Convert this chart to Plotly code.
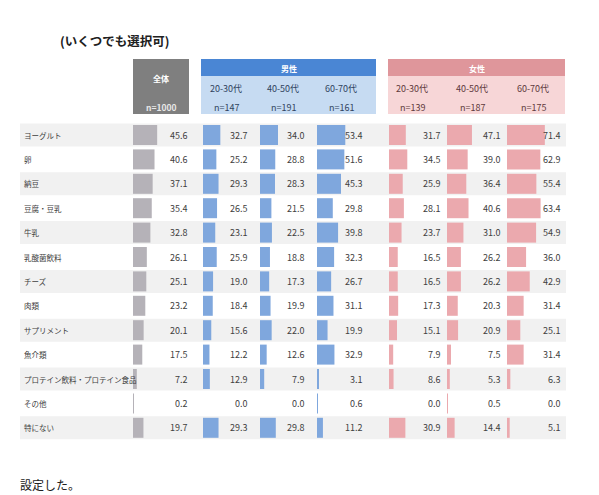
import plotly.graph_objects as go

items = ["ヨーグルト","卵","納豆","豆腐・豆乳","牛乳","乳酸菌飲料","チーズ","肉類","サプリメント","魚介類","プロテイン飲料・プロテイン食品","その他","特にない"]
total = [45.6,40.6,37.1,35.4,32.8,26.1,25.1,23.2,20.1,17.5,7.2,0.2,19.7]
m20 = [32.7,25.2,29.3,26.5,23.1,25.9,19.0,18.4,15.6,12.2,12.9,0.0,29.3]
m40 = [34.0,28.8,28.3,21.5,22.5,18.8,17.3,19.9,22.0,12.6,7.9,0.0,29.8]
m60 = [53.4,51.6,45.3,29.8,39.8,32.3,26.7,31.1,19.9,32.9,3.1,0.6,11.2]
f20 = [31.7,34.5,25.9,28.1,23.7,16.5,16.5,17.3,15.1,7.9,8.6,0.0,30.9]
f40 = [47.1,39.0,36.4,40.6,31.0,26.2,26.2,20.3,20.9,7.5,5.3,0.5,14.4]
f60 = [71.4,62.9,55.4,63.4,54.9,36.0,42.9,31.4,25.1,31.4,6.3,0.0,5.1]
ages = ["20-30代","40-50代","60-70代"]
n_m = ["n=147","n=191","n=161"]
n_f = ["n=139","n=187","n=175"]

cols = [(total,133,190,"#b5b2b8"),(m20,203,250,"#7fa7dd"),(m40,260,307,"#7fa7dd"),(m60,317,365,"#7fa7dd"),
        (f20,389,443,"#eba9ae"),(f40,447,503,"#eba9ae"),(f60,507,563,"#eba9ae")]
scale = 0.53
y0, pitch = 135, 24.4
ys = [y0 + i*pitch for i in range(len(items))]

fig = go.Figure()
shapes = []
ann = []
for i, y in enumerate(ys):
    if i % 2 == 0:
        shapes.append(dict(type="rect", x0=20, x1=566, y0=y-11.5, y1=y+11.5, fillcolor="#f1f1f1", line_width=0, layer="below"))
    ann.append(dict(x=22, y=y, text=items[i], xanchor="left", showarrow=False, font=dict(size=7.5, color="#404040")))
for vals, start, tx, color in cols:
    fig.add_trace(go.Bar(orientation="h", y=ys, x=[v*scale for v in vals], base=start, width=20,
                         marker=dict(color=color, line_width=0), hoverinfo="skip"))
    for v, y in zip(vals, ys):
        ann.append(dict(x=tx, y=y, text=f"{v:.1f}", xanchor="right", showarrow=False, font=dict(size=9, color="#404040")))

# header
shapes.append(dict(type="rect", x0=133, x1=189, y0=59, y1=114, fillcolor="#7f7f7f", line_width=0))
ann.append(dict(x=161, y=78, text="<b>全体</b>", showarrow=False, font=dict(size=8, color="white")))
ann.append(dict(x=161, y=107, text="<b>n=1000</b>", showarrow=False, font=dict(size=8.5, color="#e8e8e8")))
for x0, x1, band, sub, lab, tcol, ns, centers in [
    (201, 376, "#4a86d4", "#c6dbf2", "男性", "#30445e", n_m, [226, 283, 341]),
    (388, 565, "#df969b", "#f7d6d7", "女性", "#5e3a3c", n_f, [412, 472, 533])]:
    shapes.append(dict(type="rect", x0=x0, x1=x1, y0=59, y1=76, fillcolor=band, line_width=0))
    shapes.append(dict(type="rect", x0=x0, x1=x1, y0=76, y1=114, fillcolor=sub, line_width=0))
    ann.append(dict(x=(x0+x1)/2, y=68, text="<b>"+lab+"</b>", showarrow=False, font=dict(size=8, color="white")))
    for c, a, n in zip(centers, ages, ns):
        ann.append(dict(x=c, y=88, text=a, showarrow=False, font=dict(size=9, color=tcol)))
        ann.append(dict(x=c, y=107, text=n, showarrow=False, font=dict(size=9, color=tcol)))

ann.append(dict(x=6, y=16, text="<b>図表 14:【生活者調査】感染予防や体調管理のために、毎日継続しやすい食品は何ですか。</b>", xanchor="left", showarrow=False, font=dict(size=12.5, color="#202020")))
ann.append(dict(x=58, y=40, text="<b>(いくつでも選択可)</b>", xanchor="left", showarrow=False, font=dict(size=12.5, color="#202020")))
ann.append(dict(x=6, y=463, text="※本設問は、たんぱく質摂取との関連を踏まえ、代表的なたんぱく質含有食品を選択肢として", xanchor="left", showarrow=False, font=dict(size=12, color="#202020")))
ann.append(dict(x=18, y=484, text="設定した。", xanchor="left", showarrow=False, font=dict(size=12, color="#202020")))

# page body has an 8px margin; offset ranges so coordinates match page pixels
fig.update_layout(width=599, height=495, margin=dict(l=0, r=0, t=0, b=0), showlegend=False,
                  plot_bgcolor="white", paper_bgcolor="white", barmode="overlay",
                  font=dict(family="Noto Sans CJK JP"),
                  xaxis=dict(range=[8, 607], visible=False, fixedrange=True),
                  yaxis=dict(range=[503, 8], visible=False, fixedrange=True),
                  shapes=shapes, annotations=ann)
fig.write_html("out.html")
